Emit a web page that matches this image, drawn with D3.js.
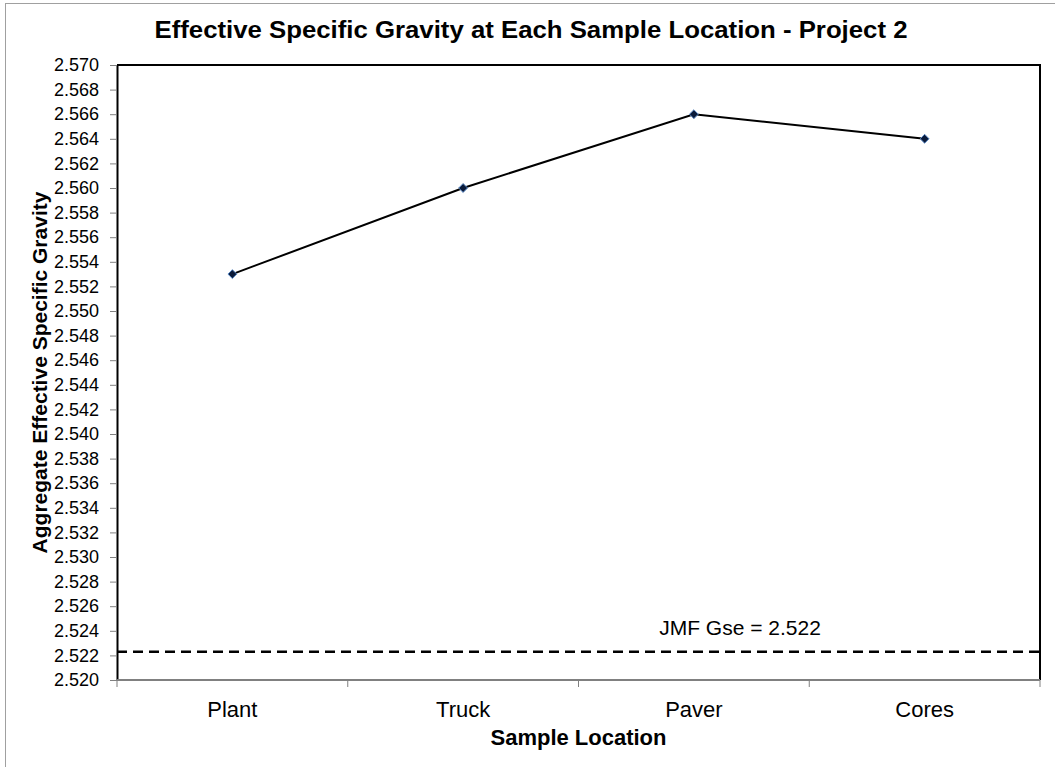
<!DOCTYPE html>
<html>
<head>
<meta charset="utf-8">
<script src="https://cdn.jsdelivr.net/npm/d3@7"></script>
<style>
  body { margin: 0; background: #fff; }
  text { font-family: "Liberation Sans", Arial, sans-serif; fill: #000; }
</style>
</head>
<body>
<div id="graph"></div>
<script>
var locations = ['Plant', 'Truck', 'Paver', 'Cores'];
var gravity = [2.553, 2.560, 2.566, 2.564];
var jmfGse = 2.5223;
var yTicks = d3.range(0, 26).map(function(i) { return +(2.520 + i * 0.002).toFixed(3); });

var width = 1055, height = 767;
var margin = {top: 65, right: 15, bottom: 87, left: 117};

var svg = d3.select('#graph').append('svg')
    .attr('width', width)
    .attr('height', height);

// outer chart border
svg.append('rect')
    .attr('x', 5.5).attr('y', 3.5)
    .attr('width', width + 10).attr('height', height + 10)
    .attr('fill', 'none')
    .attr('stroke', '#a0a0a0');

var x = d3.scaleBand()
    .domain(locations)
    .range([margin.left, width - margin.right]);

var y = d3.scaleLinear()
    .domain([2.520, 2.570])
    .range([height - margin.bottom, margin.top]);

// y axis
var yAxis = svg.append('g')
    .attr('transform', 'translate(' + margin.left + ',0)')
    .call(d3.axisLeft(y).tickValues(yTicks).tickFormat(d3.format('.3f')).tickSize(7).tickSizeOuter(0));
yAxis.select('.domain').attr('stroke', '#000').attr('stroke-width', 2);
yAxis.selectAll('.tick line').attr('stroke', '#808080');
yAxis.selectAll('.tick text')
    .attr('x', -18)
    .style('font-size', '18px')
    .style('font-family', '"Liberation Sans", Arial, sans-serif');

// top and right frame
svg.append('path')
    .attr('d', 'M' + margin.left + ',' + margin.top + 'H' + (width - margin.right) + 'V' + (height - margin.bottom))
    .attr('fill', 'none')
    .attr('stroke', '#000')
    .attr('stroke-width', 2);

// x axis with ticks between categories
var xAxis = svg.append('g')
    .attr('transform', 'translate(0,' + (height - margin.bottom) + ')');
xAxis.append('line')
    .attr('x1', margin.left).attr('x2', width - margin.right)
    .attr('stroke', '#808080').attr('stroke-width', 2);
var bounds = locations.map(function(d) { return x(d); }).concat([x(locations[locations.length - 1]) + x.bandwidth()]);
xAxis.selectAll('.xt').data(bounds).enter().append('line')
    .attr('x1', function(d) { return d; }).attr('x2', function(d) { return d; })
    .attr('y1', 0).attr('y2', 7)
    .attr('stroke', '#808080');
xAxis.selectAll('.xl').data(locations).enter().append('text')
    .attr('x', function(d) { return x(d) + x.bandwidth() / 2; })
    .attr('y', 37)
    .attr('text-anchor', 'middle')
    .style('font-size', '22px')
    .text(function(d) { return d; });

// JMF reference line
svg.append('line')
    .attr('x1', margin.left).attr('x2', width - margin.right)
    .attr('y1', y(jmfGse)).attr('y2', y(jmfGse))
    .attr('stroke', '#000')
    .attr('stroke-width', 2.5)
    .attr('stroke-dasharray', '10,6');
svg.append('text')
    .attr('x', 740)
    .attr('y', 635)
    .attr('text-anchor', 'middle')
    .style('font-size', '21px')
    .text('JMF Gse = ' + jmfGse.toFixed(3));

// series line
var line = d3.line()
    .x(function(d, i) { return x(locations[i]) + x.bandwidth() / 2; })
    .y(function(d) { return y(d); });
svg.append('path')
    .datum(gravity)
    .attr('d', line)
    .attr('fill', 'none')
    .attr('stroke', '#000')
    .attr('stroke-width', 2);

svg.selectAll('.pt').data(gravity).enter().append('path')
    .attr('d', d3.symbol().type(d3.symbolDiamond2).size(50))
    .attr('transform', function(d, i) { return 'translate(' + (x(locations[i]) + x.bandwidth() / 2) + ',' + y(d) + ')'; })
    .attr('fill', '#0a1a3a')
    .attr('stroke', '#5b8ac6')
    .attr('stroke-width', 1);

// titles
svg.append('text')
    .attr('x', 531)
    .attr('y', 38)
    .attr('text-anchor', 'middle')
    .attr('textLength', 753)
    .attr('lengthAdjust', 'spacingAndGlyphs')
    .style('font-size', '23px')
    .style('font-weight', 'bold')
    .text('Effective Specific Gravity at Each Sample Location  - Project 2');

svg.append('text')
    .attr('x', (margin.left + width - margin.right) / 2)
    .attr('y', 745)
    .attr('text-anchor', 'middle')
    .style('font-size', '22px')
    .style('font-weight', 'bold')
    .text('Sample Location');

svg.append('text')
    .attr('transform', 'translate(47,' + ((margin.top + height - margin.bottom) / 2) + ') rotate(-90)')
    .attr('text-anchor', 'middle')
    .style('font-size', '21px')
    .style('font-weight', 'bold')
    .text('Aggregate Effective Specific Gravity');
</script>
</body>
</html>
